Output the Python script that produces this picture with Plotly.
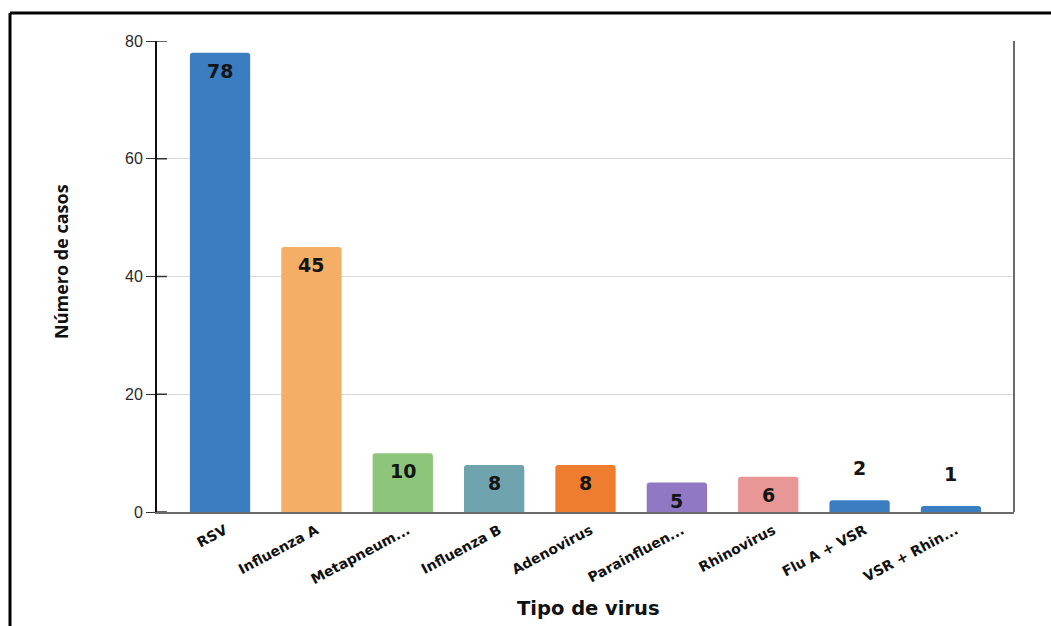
import plotly.graph_objects as go

# Categorías y número de casos por tipo de virus
categorias = ["RSV", "Influenza A", "Metapneum...", "Influenza B", "Adenovirus",
              "Parainfluen...", "Rhinovirus", "Flu A + VSR", "VSR + Rhin..."]
casos = [78, 45, 10, 8, 8, 5, 6, 2, 1]
colores = ["#3A7DC1", "#F4AE66", "#8DC67A", "#6FA3AD", "#EE7D30",
           "#9078C4", "#E89696", "#3A7DC1", "#3A7DC1"]
y_ticks = [0, 20, 40, 60, 80]

# Las barras pequeñas llevan la etiqueta por encima
umbral_dentro = 4

fig = go.Figure()
fig.add_trace(go.Bar(
    x=list(range(len(categorias))),
    y=casos,
    marker=dict(color=colores, line=dict(width=0), cornerradius=3),
    width=0.66,
    hoverinfo="skip",
))

fuente_valor = dict(family="DejaVu Sans", size=19, color="#151515", weight="bold")
for i, v in enumerate(casos):
    if v >= umbral_dentro:
        fig.add_annotation(x=i, y=v, text=str(v), showarrow=False,
                           yanchor="top", yshift=-5, font=fuente_valor)
    else:
        fig.add_annotation(x=i, y=v, text=str(v), showarrow=False,
                           yanchor="bottom", yshift=19, font=fuente_valor)

# Geometría de la página en píxeles
L, R, T, B = 157, 37, 41, 114
W, H = 1051, 626
pw, ph = W - L - R, H - T - B
def px_x(x):
    return (x - L) / pw
def px_y(y):
    return (H - B - y) / ph

# Marco exterior (líneas superior e izquierda)
fig.add_shape(type="line", xref="paper", yref="paper",
              x0=px_x(10), x1=px_x(1060), y0=px_y(13), y1=px_y(13),
              line=dict(color="black", width=3))
fig.add_shape(type="line", xref="paper", yref="paper",
              x0=px_x(10), x1=px_x(10), y0=px_y(13), y1=px_y(640),
              line=dict(color="black", width=3))
# Borde derecho del área de trazado
fig.add_shape(type="line", xref="paper", yref="paper",
              x0=1, x1=1, y0=0, y1=1, line=dict(color="#6a6a6a", width=2))
# Marcas del eje Y que cruzan la línea del eje
for t in y_ticks:
    fig.add_shape(type="line", xref="paper", yref="y",
                  x0=0, x1=px_x(167), y0=t, y1=t,
                  line=dict(color="#333333", width=1.5))

# Títulos de los ejes
fig.add_annotation(xref="paper", yref="paper", x=px_x(588), y=px_y(608),
                   text="Tipo de virus", showarrow=False,
                   xanchor="center", yanchor="middle",
                   font=dict(family="DejaVu Sans", size=19.5, color="#111111", weight="bold"))
fig.add_annotation(xref="paper", yref="paper", x=px_x(61), y=px_y(262),
                   text="Número de casos", showarrow=False, textangle=-90,
                   xanchor="center", yanchor="middle",
                   font=dict(family="Open Sans", size=18, color="#111111", weight="bold"))

fig.update_layout(
    width=W, height=H,
    margin=dict(l=L, r=R, t=T, b=B),
    paper_bgcolor="white", plot_bgcolor="white",
    showlegend=False,
    xaxis=dict(
        tickmode="array",
        tickvals=list(range(len(categorias))),
        ticktext=categorias,
        range=[-0.69, 8.69],
        tickangle=-28,
        tickfont=dict(family="DejaVu Sans", size=14, color="#111111", weight="bold"),
        showgrid=False, zeroline=False,
        showline=True, linecolor="#6a6a6a", linewidth=2,
        ticks="", ticklabelstandoff=3, ticklabelshift=5,
    ),
    yaxis=dict(
        range=[0, 80],
        tickmode="array", tickvals=y_ticks,
        tickfont=dict(family="Liberation Sans", size=16, color="#2a2a2a"),
        showgrid=True, gridcolor="#d9d9d9", gridwidth=1,
        zeroline=False,
        showline=True, linecolor="#111111", linewidth=2,
        ticks="outside", ticklen=9, tickcolor="#333333",
    ),
)

fig.write_html("out.html")
